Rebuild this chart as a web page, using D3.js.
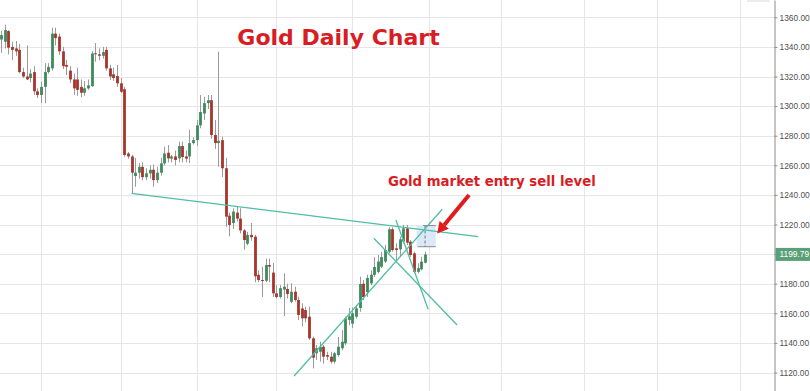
<!DOCTYPE html>
<html>
<head>
<meta charset="utf-8">
<script src="https://cdnjs.cloudflare.com/ajax/libs/d3/7.8.5/d3.min.js"></script>
<style>
body{margin:0;background:#fff;overflow:hidden}
svg{display:block}
.yaxis text{font-family:"Liberation Sans",Arial,sans-serif;font-size:8.4px;fill:#505050}
</style>
</head>
<body>
<svg id="svg" width="810" height="391"></svg>
<script>
const width = 810;
const height = 391;
const axisX = 774.5;

// daily OHLC, one per trading day (index = day)
const opens  = [1345,1343.5,1350.7,1340,1339,1338,1323,1320,1319,1323,1310,1307.5,1313,1323,1325.5,1349,1347,1337,1327.8,1324,1318,1318,1313,1309,1312,1313.5,1335.7,1335,1334,1338,1325.5,1321.5,1320.3,1315.4,1311.4,1268,1266,1252.8,1255,1259,1252,1254.5,1257,1250,1255,1261.3,1268.5,1264.5,1266,1264.7,1273,1266,1266,1275,1277,1287,1295,1302,1304,1280.5,1275,1277,1258,1226,1221,1228,1224,1216,1207,1213,1211.8,1186,1182.5,1182,1192.6,1187.5,1173.5,1171,1176,1176.4,1167.8,1174.6,1169,1163.3,1162.2,1157.7,1143.1,1133,1134,1137.4,1131.8,1130.7,1127.3,1131.8,1136.4,1139.7,1155.5,1153,1157.7,1163.6,1180,1174.4,1180.2,1186,1188,1191.5,1195,1201.6,1216.8,1203.9,1203.2,1208.4,1217.4,1208.4,1200.5,1188,1189.7,1194.2];
const highs  = [1351,1355,1351.3,1343.5,1344,1342,1326,1341,1325,1327,1312,1316.5,1329,1329,1353,1353,1349,1340,1331,1327,1322,1326,1318,1317,1318,1337,1342.6,1339,1340,1340,1328,1326,1327.8,1319,1313,1269,1267,1265,1261.5,1262,1258,1260,1260.6,1259,1265,1272.6,1273.7,1267,1270,1276,1276,1270,1284,1279,1290.6,1307.5,1306.3,1307.5,1307.5,1290.6,1336.8,1279.3,1265,1228,1231,1232,1231,1217,1215,1221,1213,1189,1191.5,1197,1197,1194,1179,1179,1187,1180,1180.3,1178,1171.2,1166.8,1164.5,1164.5,1144.2,1138.6,1140.8,1138.6,1134,1134,1134,1144,1148.7,1157.7,1163.6,1164,1165.6,1184.7,1182.5,1186,1189,1198,1199.4,1201.4,1206.3,1218.1,1218.1,1207.3,1211.8,1219.7,1219.7,1209.5,1201.6,1193.8,1198.2,1201.6];
const lows   = [1336,1339,1335,1331,1334,1322,1319,1317.6,1316,1307.5,1305.5,1302,1302,1322,1324,1341,1334.5,1325,1321,1315.6,1307.5,1307,1306,1307,1311,1313,1330,1331,1332,1324,1317.6,1317,1313,1308.8,1265.8,1264.5,1241,1245.5,1251,1250,1250,1251,1245.5,1248,1253,1260,1262,1262,1260,1262,1262,1262,1261.5,1274,1273,1285,1290.6,1298,1278,1271,1259,1252,1218.5,1212,1217,1222,1214,1203,1206,1209,1181,1181,1171,1181,1181,1171,1170,1170,1158,1170,1166.8,1167.8,1155.5,1151,1154,1142,1122.8,1128.4,1127.3,1126,1128.4,1126,1126,1130.7,1135,1138.6,1152,1150,1156.6,1161,1169,1171,1179,1184.5,1187,1190.6,1194,1200.5,1201.6,1196,1198.2,1207.3,1206.1,1198.2,1187,1187,1189,1193.8];
const closes = [1348,1351.4,1339.5,1338,1337,1323,1320,1318,1322,1310,1307.5,1313,1323,1326.5,1349,1346,1337,1327,1326.6,1318,1312,1311,1309,1312,1314,1335.5,1335.3,1334,1336.5,1325.5,1320,1319,1315.4,1309.7,1267,1266,1255,1255,1259,1252,1254.6,1257,1250,1255,1261.3,1268,1264.7,1266,1263.6,1273,1265.6,1264.5,1275,1277,1287,1296,1302,1304,1280.5,1275,1276.6,1258,1225.3,1219.7,1228.7,1224,1216,1209.5,1213,1211.4,1185,1182.5,1182,1192.6,1191.5,1173.5,1171,1177,1178,1173,1174.6,1169,1158.9,1156.6,1156.6,1143.1,1130,1136.4,1137.4,1130.7,1130.7,1127.3,1133,1137.4,1140.8,1156.6,1158,1160,1163.3,1179.8,1171,1183.9,1186.1,1191.3,1195,1198,1202.8,1216.8,1202.8,1202.8,1210,1217.4,1207.7,1199.4,1188,1190.5,1194.9,1199.79];

// price ticks and first trading day of each month (vertical grid)
const priceTicks = [1120,1140,1160,1180,1200,1220,1240,1260,1280,1300,1320,1340,1360];
const monthStarts = [11,33,54,76,97,118,138,161,181,204];

// drawn trendlines: [day0, price0, day1, price1]
const trendlines = [
  [36, 1241, 131.7, 1211.8],
  [80.9, 1117.6, 121.8, 1230.3],
  [109, 1223, 117.9, 1162.7],
  [102.9, 1210.7, 125.9, 1152.1]
];
// entry zone box: day range and price range
const zoneDays = [114.7, 120];
const zonePrices = [1205, 1219.3];
// arrow from label to zone
const arrowFrom = [129.2, 1240];
const arrowTo = [120.4, 1214];

const svg = d3.select('#svg');

const x = d3.scaleLinear().domain([-0.32, 213.4]).range([0, 774]);
const y = d3.scaleLinear().domain([1107.5, 1371.7]).range([height, 0]);

//grid
svg.append('g').selectAll('line')
  .data(priceTicks).enter().append('line')
  .attr('x1', 0).attr('x2', axisX)
  .attr('y1', d => Math.round(y(d)) + 0.5)
  .attr('y2', d => Math.round(y(d)) + 0.5)
  .style('stroke', '#e6e6e6');

svg.append('g').selectAll('line')
  .data(monthStarts).enter().append('line')
  .attr('x1', d => Math.round(x(d)) + 0.5)
  .attr('x2', d => Math.round(x(d)) + 0.5)
  .attr('y1', 0).attr('y2', height)
  .style('stroke', '#e6e6e6');

// candles
const days = d3.range(closes.length);
const candles = svg.append('g').selectAll('g')
  .data(days).enter().append('g');

candles.append('line')
  .attr('x1', i => Math.round(x(i)) + 0.5)
  .attr('x2', i => Math.round(x(i)) + 0.5)
  .attr('y1', i => y(highs[i]))
  .attr('y2', i => y(lows[i]))
  .style('stroke', '#9a9a9a');

candles.append('rect')
  .attr('x', i => Math.round(x(i)) - 0.9)
  .attr('width', 2.8)
  .attr('y', i => y(Math.max(opens[i], closes[i])))
  .attr('height', i => Math.max(1, Math.abs(y(opens[i]) - y(closes[i]))))
  .style('fill', i => closes[i] >= opens[i] ? '#3d8a5b' : '#a8352b');

// entry zone
svg.append('rect')
  .attr('x', x(zoneDays[0]))
  .attr('y', y(zonePrices[1]))
  .attr('width', x(zoneDays[1]) - x(zoneDays[0]))
  .attr('height', y(zonePrices[0]) - y(zonePrices[1]))
  .style('fill', '#dbe8f8');
svg.append('line')
  .attr('x1', x(zoneDays[0] + 1.8)).attr('x2', x(zoneDays[1]))
  .attr('y1', y(zonePrices[1])).attr('y2', y(zonePrices[1]))
  .style('stroke', '#8a8a8a');
svg.append('line')
  .attr('x1', x(zoneDays[0] + 0.3)).attr('x2', x(zoneDays[1]))
  .attr('y1', y(zonePrices[0])).attr('y2', y(zonePrices[0]))
  .style('stroke', '#8a8a8a');
svg.append('line')
  .attr('x1', x((zoneDays[0] + zoneDays[1]) / 2 - 0.3))
  .attr('x2', x((zoneDays[0] + zoneDays[1]) / 2 - 0.3))
  .attr('y1', y(zonePrices[1])).attr('y2', y(zonePrices[0]))
  .style('stroke', '#777')
  .style('stroke-dasharray', '3,2');

// trendlines
svg.append('g').selectAll('line')
  .data(trendlines).enter().append('line')
  .attr('x1', d => x(d[0])).attr('y1', d => y(d[1]))
  .attr('x2', d => x(d[2])).attr('y2', d => y(d[3]))
  .style('stroke', '#4fbea4')
  .style('stroke-width', 1.3);

// y axis
const yAxis = d3.axisRight(y)
  .tickValues(priceTicks)
  .tickFormat(d3.format('.2f'))
  .tickSize(3)
  .tickPadding(2)
  .tickSizeOuter(0);
const ag = svg.append('g')
  .attr('class', 'yaxis')
  .attr('transform', 'translate(' + axisX + ',0)')
  .call(yAxis);
ag.select('.domain').style('stroke', '#8c8c8c');
ag.selectAll('.tick line').style('stroke', '#8c8c8c');

// last price label
const last = closes[closes.length - 1];
svg.append('rect')
  .attr('x', axisX + 1)
  .attr('y', y(last) - 6.5)
  .attr('width', 40).attr('height', 13)
  .style('fill', '#5b9f78');
svg.append('text')
  .attr('x', axisX + 5)
  .attr('y', y(last))
  .attr('dy', '0.35em')
  .style('font-family', '"Liberation Sans",Arial,sans-serif')
  .style('font-size', '8.4px')
  .style('fill', '#fff')
  .text(d3.format('.2f')(last));

// top-right button edge
svg.append('rect')
  .attr('x', 747).attr('y', -3).attr('width', 23).attr('height', 5)
  .style('fill', '#ececec');

// arrow
const ax0 = x(arrowFrom[0]), ay0 = y(arrowFrom[1]);
const ax1 = x(arrowTo[0]), ay1 = y(arrowTo[1]);
const ang = Math.atan2(ay1 - ay0, ax1 - ax0);
const headLen = 11, headW = 6;
const bx = ax1 - headLen * Math.cos(ang), by = ay1 - headLen * Math.sin(ang);
svg.append('line')
  .attr('x1', ax0).attr('y1', ay0).attr('x2', bx).attr('y2', by)
  .style('stroke', '#e01b1b').style('stroke-width', 4);
svg.append('path')
  .attr('d', 'M' + ax1 + ',' + ay1 +
    'L' + (bx + headW * Math.sin(ang)) + ',' + (by - headW * Math.cos(ang)) +
    'L' + (bx - headW * Math.sin(ang)) + ',' + (by + headW * Math.cos(ang)) + 'Z')
  .style('fill', '#e01b1b');

// titles
svg.append('text')
  .attr('x', 338.5).attr('y', 45)
  .attr('text-anchor', 'middle')
  .style('font-family', '"DejaVu Sans",Verdana,sans-serif')
  .style('font-weight', 'bold')
  .style('font-size', '22px')
  .style('fill', '#d81e24')
  .text('Gold Daily Chart');

svg.append('text')
  .attr('x', 388).attr('y', 186)
  .style('font-family', '"DejaVu Sans",Verdana,sans-serif')
  .style('font-weight', 'bold')
  .style('font-size', '13.3px')
  .style('fill', '#d81e24')
  .text('Gold market entry sell level');
</script>
</body>
</html>
